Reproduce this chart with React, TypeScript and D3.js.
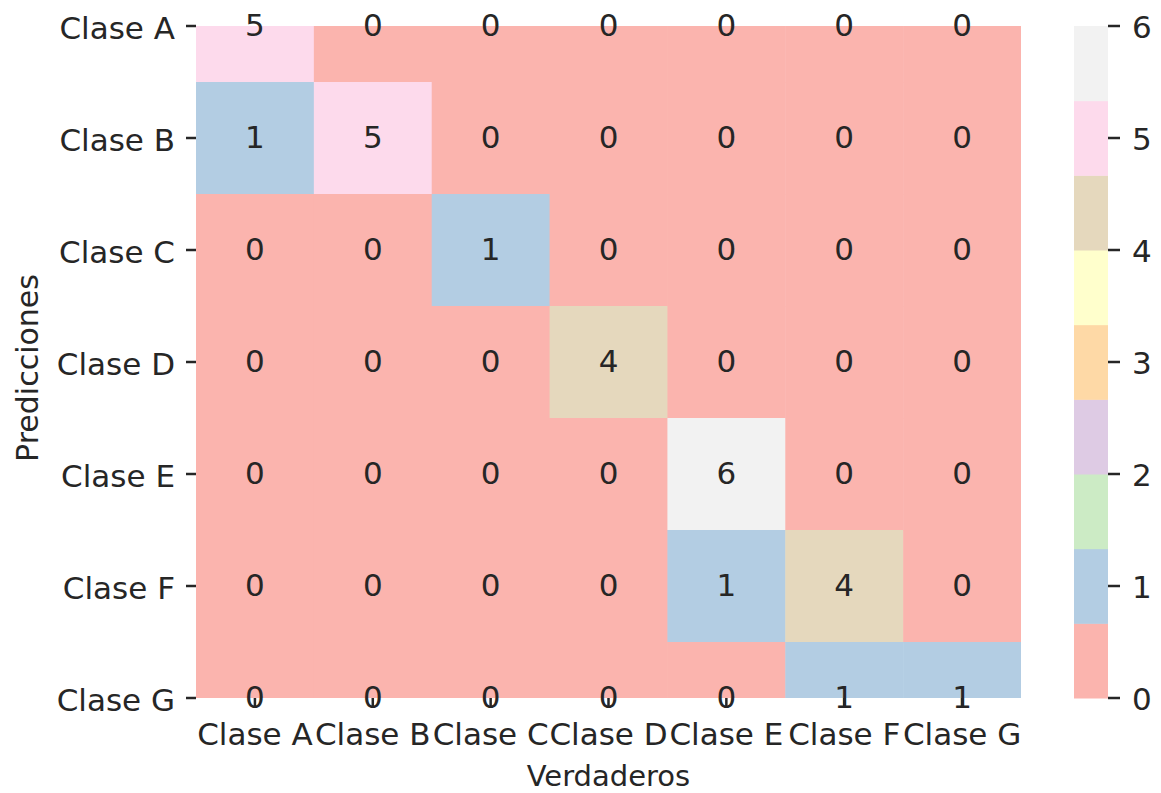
import { useEffect, useRef } from "react";
import * as d3 from "d3";

// confusion matrix, rows = predicciones, cols = verdaderos
const classes = ["Clase A", "Clase B", "Clase C", "Clase D", "Clase E", "Clase F", "Clase G"];
const rowA = [5, 0, 0, 0, 0, 0, 0];
const rowB = [1, 5, 0, 0, 0, 0, 0];
const rowC = [0, 0, 1, 0, 0, 0, 0];
const rowD = [0, 0, 0, 4, 0, 0, 0];
const rowE = [0, 0, 0, 0, 6, 0, 0];
const rowF = [0, 0, 0, 0, 1, 4, 0];
const rowG = [0, 0, 0, 0, 0, 1, 1];
const matrix = [rowA, rowB, rowC, rowD, rowE, rowF, rowG];
const cbarTicks = [0, 1, 2, 3, 4, 5, 6];
const pastel1 = ["#fbb4ae", "#b3cde3", "#ccebc5", "#decbe4", "#fed9a6", "#ffffcc", "#e5d8bd", "#fddaec", "#f2f2f2"];

export default function App() {
    const svgRef = useRef<SVGSVGElement>(null);

    useEffect(() => {
        const svg = d3.select(svgRef.current);
        svg.selectAll("*").remove();

        const textColor = "#262626";
        const font = "DejaVu Sans";

        // heatmap area (top/bottom rows cut in half, like the original)
        const left = 196, right = 1021, top = 26, bottom = 698;
        const x = d3.scaleLinear().domain([0, 7]).range([left, right]);
        const y = d3.scaleLinear().domain([0.5, 6.5]).range([top, bottom]);
        const color = d3.scaleQuantize<string>().domain([0, 6]).range(pastel1);

        svg.append("defs")
            .append("clipPath")
            .attr("id", "heatclip")
            .append("rect")
            .attr("x", left)
            .attr("y", top)
            .attr("width", right - left)
            .attr("height", bottom - top);

        const cells: { r: number; c: number; v: number }[] = [];
        matrix.forEach((row, r) => row.forEach((v, c) => cells.push({ r, c, v })));

        svg.append("g")
            .attr("clip-path", "url(#heatclip)")
            .selectAll("rect")
            .data(cells)
            .enter()
            .append("rect")
            .attr("x", (d) => x(d.c))
            .attr("y", (d) => y(d.r))
            .attr("width", x(1) - x(0) + 0.5)
            .attr("height", y(1) - y(0) + 0.5)
            .attr("fill", (d) => color(d.v));

        // x ticks
        svg.append("g")
            .selectAll("line")
            .data(classes)
            .enter()
            .append("line")
            .attr("x1", (_, i) => x(i + 0.5))
            .attr("x2", (_, i) => x(i + 0.5))
            .attr("y1", bottom)
            .attr("y2", bottom + 10)
            .attr("stroke", textColor)
            .attr("stroke-width", 2.5);

        svg.append("g")
            .selectAll("text")
            .data(classes)
            .enter()
            .append("text")
            .attr("x", (_, i) => x(i + 0.5))
            .attr("y", 745)
            .attr("text-anchor", "middle")
            .attr("font-family", font)
            .attr("font-size", 31)
            .attr("fill", textColor)
            .text((d) => d);

        // y ticks
        svg.append("g")
            .selectAll("line")
            .data(classes)
            .enter()
            .append("line")
            .attr("x1", left - 10)
            .attr("x2", left)
            .attr("y1", (_, i) => y(i + 0.5))
            .attr("y2", (_, i) => y(i + 0.5))
            .attr("stroke", textColor)
            .attr("stroke-width", 2.5);

        svg.append("g")
            .selectAll("text")
            .data(classes)
            .enter()
            .append("text")
            .attr("x", 175)
            .attr("y", (_, i) => y(i + 0.5) + 13)
            .attr("text-anchor", "end")
            .attr("font-family", font)
            .attr("font-size", 31)
            .attr("fill", textColor)
            .text((d) => d);

        // annotations
        svg.append("g")
            .selectAll("text")
            .data(cells)
            .enter()
            .append("text")
            .attr("x", (d) => x(d.c + 0.5))
            .attr("y", (d) => y(d.r + 0.5) + 9.5)
            .attr("text-anchor", "middle")
            .attr("font-family", font)
            .attr("font-size", 31)
            .attr("fill", textColor)
            .text((d) => d.v);

        // axis labels
        svg.append("text")
            .attr("x", (left + right) / 2)
            .attr("y", 786)
            .attr("text-anchor", "middle")
            .attr("font-family", font)
            .attr("font-size", 29)
            .attr("fill", textColor)
            .text("Verdaderos");

        svg.append("text")
            .attr("transform", "translate(38,368) rotate(-90)")
            .attr("text-anchor", "middle")
            .attr("font-family", font)
            .attr("font-size", 30)
            .attr("fill", textColor)
            .text("Predicciones");

        // colorbar
        const cbLeft = 1074, cbRight = 1108;
        const cy = d3.scaleLinear().domain([0, 6]).range([bottom, top]);
        const step = 6 / pastel1.length;
        svg.append("g")
            .selectAll("rect")
            .data(pastel1)
            .enter()
            .append("rect")
            .attr("x", cbLeft)
            .attr("width", cbRight - cbLeft)
            .attr("y", (_, i) => cy((i + 1) * step))
            .attr("height", cy(0) - cy(step) + 0.5)
            .attr("fill", (d) => d);

        svg.append("g")
            .selectAll("line")
            .data(cbarTicks)
            .enter()
            .append("line")
            .attr("x1", cbRight)
            .attr("x2", cbRight + 12)
            .attr("y1", (d) => cy(d))
            .attr("y2", (d) => cy(d))
            .attr("stroke", textColor)
            .attr("stroke-width", 2.5);

        svg.append("g")
            .selectAll("text")
            .data(cbarTicks)
            .enter()
            .append("text")
            .attr("x", 1132)
            .attr("y", (d) => cy(d) + 12)
            .attr("font-family", font)
            .attr("font-size", 31)
            .attr("fill", textColor)
            .text((d) => d);
    }, []);

    return (
        <svg
            ref={svgRef}
            width={1161}
            height={793}
            style={{ position: "absolute", left: 0, top: 0, background: "#fff" }}
        />
    );
}
